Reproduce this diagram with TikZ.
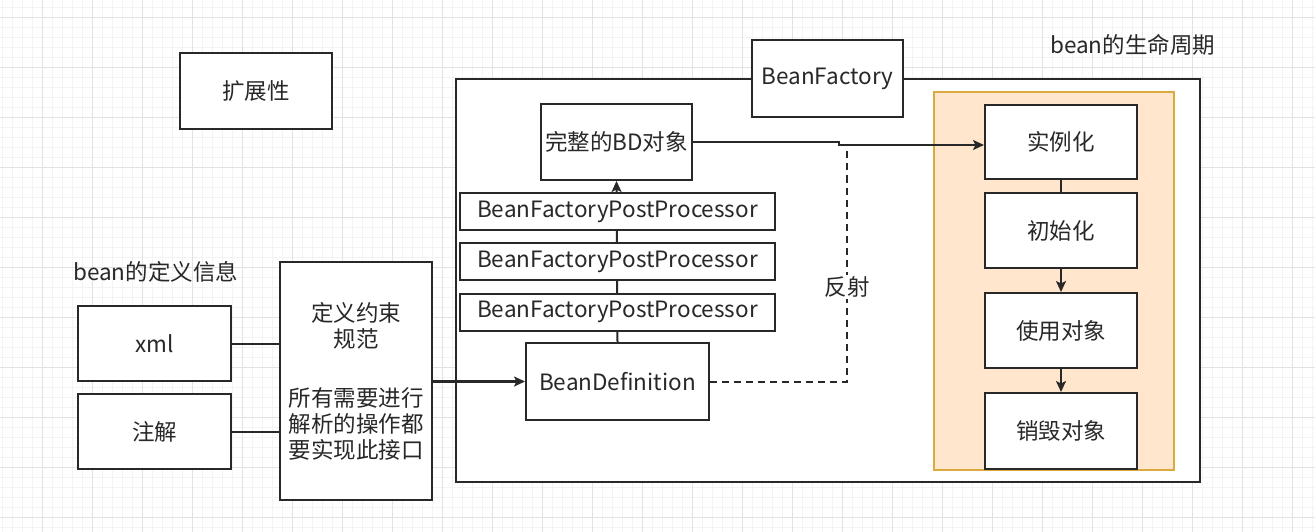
\documentclass[tikz,border=0pt]{standalone}
\usepackage{fontspec}
\setmainfont{Noto Sans CJK SC}
\usetikzlibrary{arrows.meta}
\definecolor{ink}{RGB}{40,40,40}
\definecolor{lifefill}{RGB}{255,230,204}
\definecolor{lifeline}{RGB}{218,170,62}
\definecolor{gridminor}{RGB}{243,243,243}
\definecolor{gridmajor}{RGB}{226,226,226}

\begin{document}
\begin{tikzpicture}[x=1pt, y=-1pt,
  box/.style={draw=ink, line width=2pt, fill=white, inner sep=0pt, text=ink,
    minimum width=152pt, minimum height=76pt, font=\fontsize{22.5}{26}\selectfont},
  plain/.style={inner sep=0pt, text=ink, font=\fontsize{22.5}{26}\selectfont},
  line/.style={draw=ink, line width=2pt},
  link/.style={line, -{Stealth[length=11pt, width=10pt, inset=2.5pt]}},
  life/.style={draw=lifeline, line width=2pt, fill=lifefill}]
  \useasboundingbox (0,0) rectangle (1315,532);
  % grid
  \foreach \gx in {2,12,...,1312} \draw[gridminor, line width=0.8pt] (\gx,0) -- (\gx,532);
  \foreach \gy in {7,17,...,527} \draw[gridminor, line width=0.8pt] (0,\gy) -- (1315,\gy);
  \foreach \gx in {42,92,...,1292} \draw[gridmajor, line width=0.8pt] (\gx,0) -- (\gx,532);
  \foreach \gy in {17,67,...,517} \draw[gridmajor, line width=0.8pt] (0,\gy) -- (1315,\gy);

  % BeanFactory container
  \draw[line, fill=white] (456,79) rectangle (1200,482);
  \node[box, minimum width=151pt, minimum height=77pt] (factory) at (827.5,78.5) {BeanFactory};
  % life cycle container
  \draw[life] (934,92) rectangle (1174,470);
  \node[plain, anchor=west] (lifetitle) at (1050,45) {bean的生命周期};

  % definition sources
  \node[box] (ext) at (256,91.5) {扩展性};
  \node[plain, anchor=west] (info) at (73,272) {bean的定义信息};
  \node[box, minimum width=153pt, minimum height=75pt] (xml) at (154.5,343.5) {xml};
  \node[box, minimum width=153pt, minimum height=75pt] (anno) at (154.5,431.5) {注解};
  \node[box, minimum height=238pt, align=center] (spec) at (356,381)
    {定义约束\\规范\\[33pt]所有需要进行\\解析的操作都\\要实现此接口};

  % bean definition chain
  \node[box, minimum width=151pt] (full) at (616.5,142) {完整的BD对象};
  \node[box, minimum width=183pt, minimum height=77pt] (bdef) at (617.5,381.5) {BeanDefinition};
  \draw[link] (bdef.north) -- (full.south);
  \foreach \i/\py in {1/211.5, 2/261.5, 3/312}
    \node[box, minimum width=315pt, minimum height=37pt] (post\i) at (617.5,\py) {BeanFactoryPostProcessor};

  % life steps
  \node[box, minimum height=74pt] (inst) at (1061,142) {实例化};
  \node[box, minimum height=75pt] (init) at (1061,230.5) {初始化};
  \node[box, minimum height=75pt] (use) at (1061,330.5) {使用对象};
  \node[box] (destroy) at (1061,431) {销毁对象};
  \draw[line] (inst) -- (init);
  \draw[link] (init) -- (use);
  \draw[link] (use) -- (destroy);

  % connectors
  \draw[line] (xml.east) -- (xml.east -| spec.west);
  \draw[line] (anno.east) -- (anno.east -| spec.west);
  \draw[link, line width=3pt] (spec.east |- bdef.west) -- (bdef.west);
  \coordinate (jog) at (839,145);
  \draw[link] (full.east) -| (jog) -- (jog -| inst.west);
  \coordinate (merge) at (847,145);
  \draw[line, dash pattern=on 7pt off 5pt] (bdef.east) -| (merge)
    node[pos=0.7, fill=white, inner sep=2pt, text=ink, font=\fontsize{22.5}{26}\selectfont] {反射};
\end{tikzpicture}
\end{document}
